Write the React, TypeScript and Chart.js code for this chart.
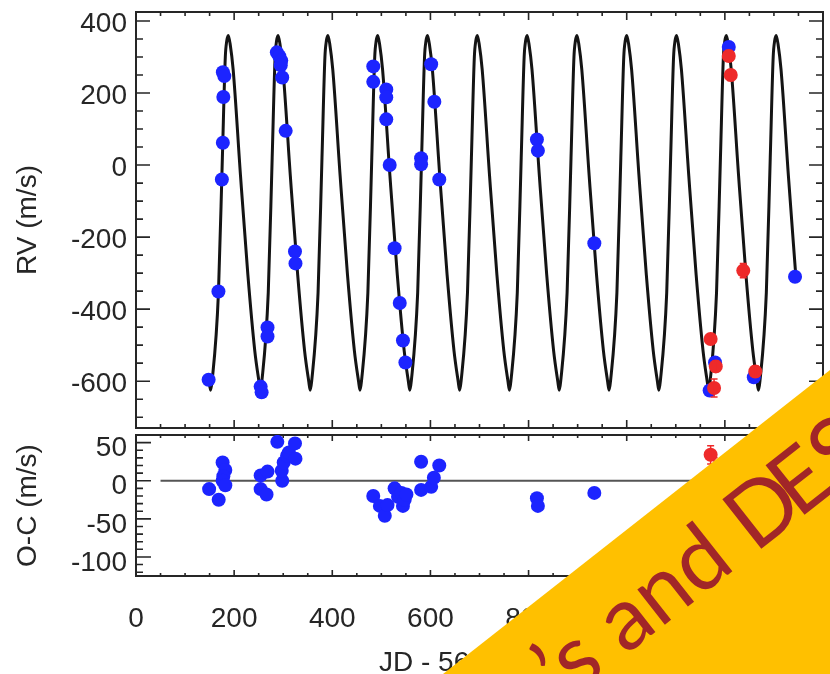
import React, { useEffect, useRef } from 'react';
import { Chart, registerables } from 'chart.js';

Chart.register(...registerables);
Chart.defaults.font.family = '"Liberation Sans", Arial, Helvetica, sans-serif';

// ---------------- data (JD - offset, m/s) ----------------
const xTicks = [0, 200, 400, 600, 800, 1000, 1200, 1400];
const rvTicks = [-600, -400, -200, 0, 200, 400];
const ocTicks = [-100, -50, 0, 50];

// Keplerian model curve (troughs, flanks, peaks)
const modelJD = [
  148,
  152, 155, 168, 176, 182, 185, 188, 192, 198, 213, 228, 242, 250.5,
  253.5, 256.5, 269.5, 277.5, 283.5, 286.5, 289.5, 293.5, 299.5, 314.5, 329.5, 343.5, 352,
  355, 358, 371, 379, 385, 388, 391, 395, 401, 416, 431, 445, 453.5,
  456.5, 459.5, 472.5, 480.5, 486.5, 489.5, 492.5, 496.5, 502.5, 517.5, 532.5, 546.5, 555,
  558, 561, 574, 582, 588, 591, 594, 598, 604, 619, 634, 648, 656.5,
  659.5, 662.5, 675.5, 683.5, 689.5, 692.5, 695.5, 699.5, 705.5, 720.5, 735.5, 749.5, 758,
  761, 764, 777, 785, 791, 794, 797, 801, 807, 822, 837, 851, 859.5,
  862.5, 865.5, 878.5, 886.5, 892.5, 895.5, 898.5, 902.5, 908.5, 923.5, 938.5, 952.5, 961,
  964, 967, 980, 988, 994, 997, 1000, 1004, 1010, 1025, 1040, 1054, 1062.5,
  1065.5, 1068.5, 1081.5, 1089.5, 1095.5, 1098.5, 1101.5, 1105.5, 1111.5, 1126.5, 1141.5, 1155.5, 1164,
  1167, 1170, 1183, 1191, 1197, 1200, 1203, 1207, 1213, 1228, 1243, 1257, 1265.5,
  1268.5, 1271.5, 1284.5, 1292.5, 1298.5, 1301.5, 1304.5, 1308.5, 1314.5, 1329.5, 1345,
];
const modelRV = [
  -590,
  -625, -600, -355, 20, 300, 345, 360, 335, 265, -30, -305, -515, -600,
  -625, -600, -355, 20, 300, 345, 360, 335, 265, -30, -305, -515, -600,
  -625, -600, -355, 20, 300, 345, 360, 335, 265, -30, -305, -515, -600,
  -625, -600, -355, 20, 300, 345, 360, 335, 265, -30, -305, -515, -600,
  -625, -600, -355, 20, 300, 345, 360, 335, 265, -30, -305, -515, -600,
  -625, -600, -355, 20, 300, 345, 360, 335, 265, -30, -305, -515, -600,
  -625, -600, -355, 20, 300, 345, 360, 335, 265, -30, -305, -515, -600,
  -625, -600, -355, 20, 300, 345, 360, 335, 265, -30, -305, -515, -600,
  -625, -600, -355, 20, 300, 345, 360, 335, 265, -30, -305, -515, -600,
  -625, -600, -355, 20, 300, 345, 360, 335, 265, -30, -305, -515, -600,
  -625, -600, -355, 20, 300, 345, 360, 335, 265, -30, -305, -515, -600,
  -625, -600, -355, 20, 300, 345, 360, 335, 265, -30, -315,
];

// blue data set
const blueJD = [
  148, 168, 175, 177, 178, 177, 180,
  254, 256, 268, 268, 287, 292, 296, 295, 298, 305, 324, 325,
  483.5, 483.5, 510, 510, 510, 517, 527, 537.5, 544, 549,
  581, 581, 601.5, 608, 618,
  817, 819, 934,
  1169, 1180, 1208, 1259, 1343,
];
const blueRV = [
  -596, -351, -40, 62, 189, 258, 247,
  -615, -631, -451, -476, 313, 302, 290, 277, 243, 95, -240, -273,
  274, 231, 210, 188, 127, 0, -231, -383, -487, -548,
  19, 2, 280, 176, -40,
  71, 40, -217,
  -626, -548, 328, -589, -310,
];

// red data set (with error bars)
const redJD = [1171, 1178, 1181.5, 1208, 1212, 1237.5, 1262];
const redRV = [-483, -619, -559, 303, 250, -293, -573];
const redErr = [12, 25, 15, 15, 15, 20, 15];

// residuals
const ocBlueJD = [
  149, 168.5, 176.5, 182, 178, 176.5, 182,
  254, 254, 268, 266, 288, 298, 297, 301, 308, 311.5, 324, 325,
  483.5, 497, 507, 512.5, 527, 534, 541, 544, 547.5, 551,
  581, 581, 601.5, 607, 618,
  817, 819, 934,
  1169, 1180, 1208, 1259, 1343,
];
const ocBlue = [
  -11, -25, 24, 14, 6, 0, -6,
  7, -11, 12, -18, 51, 0, 13, 24, 33, 37, 49, 29,
  -20, -33, -46, -32, -10, -21, -16, -33, -25, -18,
  25, -12, -8, 4, 20,
  -23, -33, -16,
  -8, 6, 12, -6, -4,
];
const ocRed = [34, 5, -6, -12, 8, -14, 10];
const zeroLineJD = [50, 1350];
const zeroLineVal = [0, 0];

// ---------------- styling ----------------
const W = 830;
const H = 674;
const TXT = '#262626';
const BLUE = 'rgb(28,36,255)';
const RED = 'rgb(238,42,42)';

const pts = (xs: number[], ys: number[]) => xs.map((x, i) => ({ x, y: ys[i] }));

const framePlugin = {
  id: 'frameTicks',
  beforeDatasetsDraw(chart: any, _args: any, o: any) {
    const { ctx, chartArea: a } = chart;
    const xs = chart.scales.x;
    const ys = chart.scales.y;
    ctx.save();
    ctx.strokeStyle = TXT;
    ctx.lineWidth = 2;
    ctx.strokeRect(a.left, a.top, a.right - a.left, a.bottom - a.top);
    ctx.lineWidth = 1.6;
    ctx.beginPath();
    const isMul = (v: number, m: number) => Math.abs(v / m - Math.round(v / m)) < 1e-6;
    for (let v = Math.ceil(xs.min / o.xMinor) * o.xMinor; v <= xs.max + 1e-6; v += o.xMinor) {
      const len = isMul(v, o.xMajor) ? o.xMajorLen : o.xMinorLen;
      const p = xs.getPixelForValue(v);
      ctx.moveTo(p, a.top); ctx.lineTo(p, a.top + len);
      ctx.moveTo(p, a.bottom); ctx.lineTo(p, a.bottom - len);
    }
    for (let v = Math.ceil(ys.min / o.yMinor) * o.yMinor; v <= ys.max + 1e-6; v += o.yMinor) {
      const len = isMul(v, o.yMajor) ? o.yMajorLen : o.yMinorLen;
      const p = ys.getPixelForValue(v);
      ctx.moveTo(a.left, p); ctx.lineTo(a.left + len, p);
      ctx.moveTo(a.right, p); ctx.lineTo(a.right - len, p);
    }
    ctx.stroke();
    ctx.restore();
  },
};

function errorBars(id: string, xs: number[], ys: number[], errs: number[]) {
  return {
    id,
    afterDatasetsDraw(chart: any) {
      const { ctx } = chart;
      const sx = chart.scales.x;
      const sy = chart.scales.y;
      ctx.save();
      ctx.strokeStyle = RED;
      ctx.lineWidth = 1.5;
      ctx.beginPath();
      for (let i = 0; i < xs.length; i++) {
        const px = sx.getPixelForValue(xs[i]);
        const p1 = sy.getPixelForValue(ys[i] - errs[i]);
        const p2 = sy.getPixelForValue(ys[i] + errs[i]);
        ctx.moveTo(px, p1); ctx.lineTo(px, p2);
        ctx.moveTo(px - 3.5, p1); ctx.lineTo(px + 3.5, p1);
        ctx.moveTo(px - 3.5, p2); ctx.lineTo(px + 3.5, p2);
      }
      ctx.stroke();
      ctx.restore();
    },
  };
}

const overlayPlugin = {
  id: 'overlay',
  afterDraw(chart: any) {
    const { ctx } = chart;
    ctx.save();
    // x-axis title
    ctx.fillStyle = TXT;
    ctx.font = '28px "Liberation Sans", Arial, sans-serif';
    ctx.textAlign = 'left';
    ctx.textBaseline = 'alphabetic';
    ctx.fillText('JD - 56000', 379, 671);
    // slide banner
    ctx.fillStyle = '#FFC000';
    ctx.beginPath();
    ctx.moveTo(443, 674);
    ctx.lineTo(830, 370);
    ctx.lineTo(830, 674);
    ctx.closePath();
    ctx.fill();
    ctx.translate(564.7, 703.3);
    ctx.rotate(-38.15 * Math.PI / 180);
    ctx.fillStyle = '#A12628';
    ctx.font = '88px Lato, "Open Sans", sans-serif';
    ctx.textBaseline = 'alphabetic';
    const head = '\u2019s and D';
    ctx.fillText(head, 0, 0);
    const w = ctx.measureText(head).width;
    ctx.fillText('ES', w - 12, 0);
    ctx.restore();
  },
};

const tickFont = { size: 28 };
const titleFont = { size: 28 };

export default function App() {
  const topRef = useRef<HTMLCanvasElement>(null);
  const botRef = useRef<HTMLCanvasElement>(null);

  useEffect(() => {
    const top = new Chart(topRef.current as HTMLCanvasElement, {
      type: 'line',
      data: {
        datasets: [
          {
            data: pts(redJD, redRV), showLine: false, order: 0,
            pointRadius: 7, pointBackgroundColor: RED, pointBorderWidth: 0,
          },
          {
            data: pts(blueJD, blueRV), showLine: false, order: 1,
            pointRadius: 7, pointBackgroundColor: BLUE, pointBorderWidth: 0,
          },
          {
            data: pts(modelJD, modelRV), order: 2, pointRadius: 0,
            borderColor: '#141414', borderWidth: 3,
            cubicInterpolationMode: 'monotone', fill: false,
          },
        ],
      } as any,
      options: {
        animation: false, responsive: false, maintainAspectRatio: false, events: [],
        layout: { padding: { top: 12, right: 2, bottom: H - 428, left: 0 } },
        plugins: {
          legend: { display: false }, tooltip: { enabled: false },
          frameTicks: {
            xMajor: 200, xMinor: 50, xMajorLen: 8, xMinorLen: 4,
            yMajor: 200, yMinor: 50, yMajorLen: 14, yMinorLen: 7,
          },
        } as any,
        scales: {
          x: { type: 'linear', min: 0, max: 1400, display: false },
          y: {
            type: 'linear', min: -730, max: 425, position: 'left',
            grid: { display: false, drawTicks: false }, border: { display: false },
            ticks: { font: tickFont, color: TXT, padding: 9, labelOffset: 3 },
            afterBuildTicks: (s: any) => { s.ticks = rvTicks.map((v) => ({ value: v })); },
            afterFit: (s: any) => { s.width = 136; s.paddingTop = 0; s.paddingBottom = 0; },
            title: { display: true, text: 'RV (m/s)', font: titleFont, color: TXT, padding: { top: 11, bottom: 0 } },
          },
        } as any,
      },
      plugins: [framePlugin, errorBars('eb1', redJD, redRV, redErr)],
    });

    const bot = new Chart(botRef.current as HTMLCanvasElement, {
      type: 'line',
      data: {
        datasets: [
          {
            data: pts(redJD, ocRed), showLine: false, order: 0,
            pointRadius: 7, pointBackgroundColor: RED, pointBorderWidth: 0,
          },
          {
            data: pts(ocBlueJD, ocBlue), showLine: false, order: 1,
            pointRadius: 7, pointBackgroundColor: BLUE, pointBorderWidth: 0,
          },
          {
            data: pts(zeroLineJD, zeroLineVal), order: 2, pointRadius: 0,
            borderColor: '#555555', borderWidth: 2, fill: false,
          },
        ],
      } as any,
      options: {
        animation: false, responsive: false, maintainAspectRatio: false, events: [],
        layout: { padding: { top: 435, right: 2, bottom: 0, left: 0 } },
        plugins: {
          legend: { display: false }, tooltip: { enabled: false },
          frameTicks: {
            xMajor: 200, xMinor: 50, xMajorLen: 6, xMinorLen: 3,
            yMajor: 50, yMinor: 10, yMajorLen: 15, yMinorLen: 7,
          },
        } as any,
        scales: {
          x: {
            type: 'linear', min: 0, max: 1400, position: 'bottom',
            grid: { display: false, drawTicks: false }, border: { display: false },
            ticks: { font: tickFont, color: TXT, padding: 26, maxRotation: 0, autoSkip: false },
            afterBuildTicks: (s: any) => { s.ticks = xTicks.map((v) => ({ value: v })); },
            afterFit: (s: any) => { s.height = H - 576; s.paddingLeft = 0; s.paddingRight = 0; },
          },
          y: {
            type: 'linear', min: -125, max: 60, position: 'left',
            grid: { display: false, drawTicks: false }, border: { display: false },
            ticks: { font: tickFont, color: TXT, padding: 9, labelOffset: 6 },
            afterBuildTicks: (s: any) => { s.ticks = ocTicks.map((v) => ({ value: v })); },
            afterFit: (s: any) => { s.width = 136; s.paddingTop = 0; s.paddingBottom = 0; },
            title: { display: true, text: 'O-C (m/s)', font: titleFont, color: TXT, padding: { top: 11, bottom: 0 } },
          },
        } as any,
      },
      plugins: [framePlugin, errorBars('eb2', redJD, ocRed, redErr), overlayPlugin],
    });

    return () => { top.destroy(); bot.destroy(); };
  }, []);

  const cv: React.CSSProperties = { position: 'absolute', left: 0, top: 0, width: W, height: H };
  return (
    <div style={{ position: 'absolute', left: 0, top: 0, width: W, height: H, background: '#fff', overflow: 'hidden' }}>
      <canvas ref={topRef} width={W} height={H} style={cv} />
      <canvas ref={botRef} width={W} height={H} style={cv} />
    </div>
  );
}
